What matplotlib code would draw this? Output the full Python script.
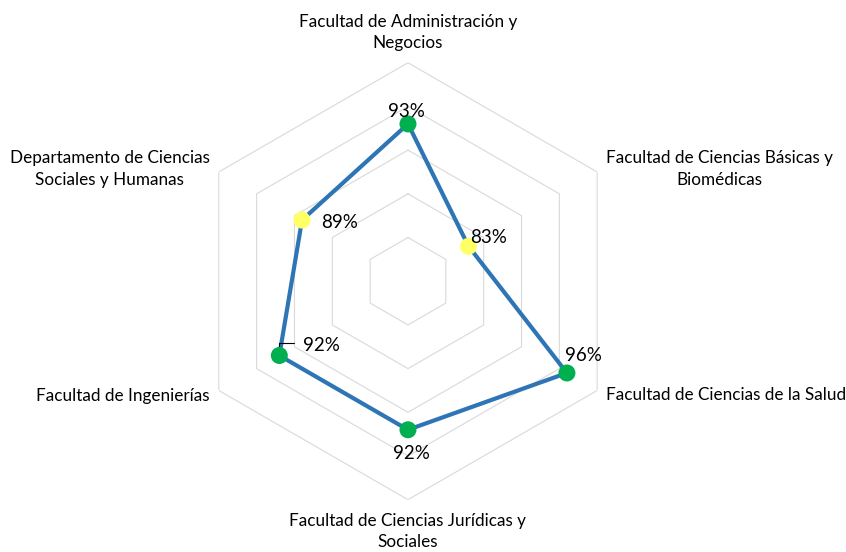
import numpy as np
import matplotlib.pyplot as plt

# Datos
categorias = [
    "Facultad de Administración y\nNegocios",
    "Facultad de Ciencias Básicas y\nBiomédicas",
    "Facultad de Ciencias de la Salud",
    "Facultad de Ciencias Jurídicas y\nSociales",
    "Facultad de Ingenierías",
    "Departamento de Ciencias\nSociales y Humanas",
]
valores = [0.93, 0.83, 0.96, 0.92, 0.92, 0.89]
etiquetas = ["93%", "83%", "96%", "92%", "92%", "89%"]
anillos = [0.80, 0.85, 0.90, 0.95, 1.00]

plt.rcParams["font.family"] = ["Lato", "DejaVu Sans"]

fig = plt.figure(figsize=(8.46, 5.52), dpi=100)
ax = fig.add_axes([0.2240, 0.0947, 0.5165, 0.7917], projection="polar")
ax.set_theta_offset(np.pi / 2)
ax.set_theta_direction(-1)
ax.set_ylim(0.75, 1.0)
ax.axis("off")

n = len(categorias)
angulos = np.linspace(0, 2 * np.pi, n, endpoint=False)
ang_c = np.append(angulos, angulos[0])

# Hexágonos de la cuadrícula
for r in anillos:
    ax.plot(ang_c, [r] * (n + 1), color="#D9D9D9", lw=0.8, zorder=1)

# Serie
ax.plot(ang_c, valores + [valores[0]], color="#2E75B6", lw=3, zorder=3)
colores = ["#00B050" if v >= 0.90 else "#FFFF66" for v in valores]
ax.scatter(angulos, valores, s=150, c=colores, zorder=4, linewidths=0)

# Etiquetas de categoría (offset en píxeles)
pos_cat = [
    ((0, 12), "center", "bottom"),
    ((9, 3), "left", "center"),
    ((9, -5), "left", "center"),
    ((0, -13), "center", "top"),
    ((-9, -6), "right", "center"),
    ((-9, 3), "right", "center"),
]
for a, txt, (off, ha, va) in zip(angulos, categorias, pos_cat):
    ax.annotate(txt, xy=(a, 1.0), xytext=off, textcoords="offset pixels",
                ha=ha, va=va, multialignment="center", fontsize=12.3,
                linespacing=1.4, annotation_clip=False)

# Etiquetas de datos
pos_dat = [(-2, 12), (20, 9), (17, 17), (3, -24), (42, 10), (38, -2)]
for a, v, txt, off in zip(angulos, valores, etiquetas, pos_dat):
    ax.annotate(txt, xy=(a, v), xytext=off, textcoords="offset pixels",
                ha="center", va="center", fontsize=13.5, zorder=5,
                annotation_clip=False)

# Línea guía de la etiqueta de Ingenierías
ax.annotate("", xy=(angulos[4], valores[4]), xytext=(15, 12),
            textcoords="offset pixels", annotation_clip=False,
            arrowprops=dict(arrowstyle="-", color="black", lw=0.8,
                            connectionstyle="angle,angleA=0,angleB=90,rad=0",
                            shrinkA=0, shrinkB=0))

fig.savefig("out.png", dpi=100)
